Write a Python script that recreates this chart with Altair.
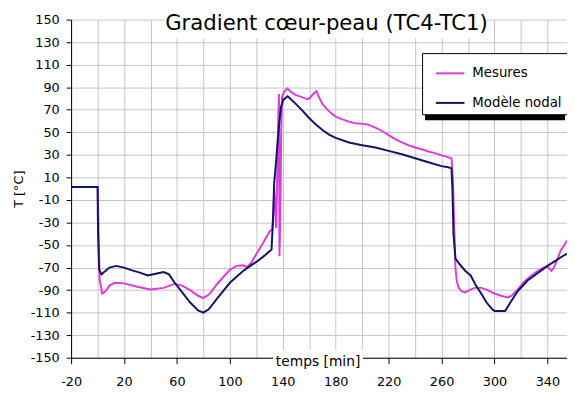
import altair as alt
import pandas as pd

# --- data ---
series_names = ["Mesures", "Modèle nodal"]
series_colors = ["#dc3cdc", "#141464"]

mes_x = [-20, 0.2, 0.8, 1.5, 3.5, 6, 9, 13, 20, 30, 40, 50, 58, 64, 70, 76, 80, 85, 90, 100,
         105, 110, 113, 116, 120, 125, 130, 132, 133, 133.5, 134.2, 135, 135.8, 136.5, 137.1, 137.5,
         138.2, 138.8, 139.5, 141, 143.5, 146, 150, 154, 158, 160, 163, 165.5, 167, 170, 173, 176,
         180, 185, 190, 195, 200, 204, 208, 212, 216, 220, 225, 230, 235, 240, 245, 250, 255, 260,
         265, 267.5, 268.5, 269.5, 270.5, 271.5, 273, 275, 278, 281, 285, 290, 295, 300, 305, 310,
         313, 317.5, 322, 327, 332.5, 337, 340, 343, 345, 348, 350, 356]
mes_y = [1.5, 1.5, -40, -80, -93, -91, -86, -83.5, -84, -87, -89.5, -88, -84.5, -86, -90, -95, -97, -93, -85, -72,
         -68.5, -68, -69.5, -66, -58, -48.5, -38, -36, -20, 2, -15, -35, 10, 60, 84, -60,
         -20, 50, 82, 86, 89, 86, 83, 81.5, 79.5, 80, 84, 86.5, 82, 75, 71, 67.5,
         64, 61.5, 59.5, 58, 57.5, 57, 55, 53, 50.5, 47.5, 44, 41, 38.5, 36.5, 35, 33, 31.5, 29.5,
         28, 27, 10, -30, -70, -82, -88, -91, -92, -90, -88, -88, -90, -93, -95, -96.5,
         -95, -89.5, -83, -78, -73, -70, -69, -73, -70, -61, -55, -44]

mod_x = [-20, 0, 0.4, 1.2, 3, 5, 9, 14, 20, 26, 32, 38, 44, 50, 54, 58, 64, 70, 76, 80, 84, 90, 100,
         110, 116, 120, 125, 128, 131.5, 132.5, 133.5, 135, 136.3, 137.5, 138.7, 140.5, 143.7, 150,
         155, 160, 165, 170, 175, 180, 190, 200, 210, 220, 230, 240, 250, 260, 265, 267.5, 268.2,
         269, 270.5, 274, 278, 282, 286, 290, 294, 298, 300, 308, 312, 317.5, 325, 332.5, 340, 346,
         352, 356]
mod_y = [1.5, 1.5, -40, -72, -76, -74, -70, -68.5, -70, -72.5, -74.5, -77, -75.5, -74, -76, -83, -92, -101,
         -108, -110, -107, -98, -83.5, -73, -68, -65, -60.5, -57.5, -54, -30, 5, 25, 45, 60, 73, 79, 82,
         75, 69, 62.5, 57, 52, 48, 45, 41, 38.5, 36.5, 33.5, 30.5, 27, 23.5, 20, 19, 18, 0, -40, -62,
         -67.5, -73, -77, -86, -93, -101, -106.5, -108.5, -108.5, -101, -91, -81.5, -75, -68.5, -64,
         -59.5, -57]

x_ticks = list(range(-20, 361, 20))
y_ticks = list(range(-150, 151, 20))

chart_title = "Gradient cœur-peau (TC4-TC1)"
x_title = "temps [min]"
y_title = "T [°C]"

FONT = "DejaVu Sans"

df = pd.concat([
    pd.DataFrame({"serie": series_names[0], "t": mes_x, "T": mes_y, "o": range(len(mes_x))}),
    pd.DataFrame({"serie": series_names[1], "t": mod_x, "T": mod_y, "o": range(len(mod_x))}),
])

W, H = 503, 343

x_axis = alt.Axis(
    values=x_ticks, grid=True, gridColor="#c4c4c4", gridWidth=1,
    domainColor="#000000", tickColor="#000000", tickSize=6,
    tickOpacity={"condition": {"test": "(datum.value + 20) % 40 == 0", "value": 1}, "value": 0},
    labelExpr="(datum.value + 20) % 40 == 0 ? '' + datum.value : ''",
    labelFont=FONT, labelFontSize=13, labelColor="#000000", labelPadding=12,
    labelFlush=False, labelOverlap=False, title=None,
)
y_axis = alt.Axis(
    values=y_ticks, grid=True, gridColor="#c4c4c4", gridWidth=1,
    domainColor="#000000", tickColor="#000000", tickSize=5,
    labelExpr="'' + datum.value",
    labelFont=FONT, labelFontSize=13, labelColor="#000000", labelPadding=7,
    labelFlush=False, labelOverlap=False,
    title=y_title, titleFont=FONT, titleFontSize=13, titleFontWeight="normal",
    titleColor="#000000", titlePadding=5,
)

lines = alt.Chart(df).mark_line(strokeWidth=2, clip=True, interpolate="linear").encode(
    x=alt.X("t:Q", scale=alt.Scale(domain=[-20, 354.8], nice=False, zero=False), axis=x_axis),
    y=alt.Y("T:Q", scale=alt.Scale(domain=[-150, 150], nice=False, zero=False), axis=y_axis),
    color=alt.Color(
        "serie:N",
        scale=alt.Scale(domain=series_names, range=series_colors),
        legend=alt.Legend(
            title=None, orient="none", legendX=356, legendY=34,
            fillColor="#ffffff", strokeColor="#000000", padding=5,
            symbolType="stroke", symbolSize=841, symbolStrokeWidth=2, symbolOffset=8,
            labelFont=FONT, labelFontSize=13.5, labelColor="#000000", labelOffset=7,
            rowPadding=8,
        ),
    ),
    order="o:Q",
    detail="serie:N",
)

title_df = pd.DataFrame({"txt": [chart_title]})
xtitle_df = pd.DataFrame({"txt": [x_title]})

title_box = alt.Chart(title_df).mark_rect(color="#ffffff").encode(
    x=alt.value(95), x2=alt.value(420), y=alt.value(-8), y2=alt.value(19))
title_txt = alt.Chart(title_df).mark_text(
    font=FONT, fontSize=21.5, color="#000000", align="center", baseline="alphabetic"
).encode(x=alt.value(259), y=alt.value(11), text="txt:N")

xt_box = alt.Chart(xtitle_df).mark_rect(color="#ffffff").encode(
    x=alt.value(205), x2=alt.value(296), y=alt.value(335), y2=alt.value(355))
xt_txt = alt.Chart(xtitle_df).mark_text(
    font=FONT, fontSize=14, color="#000000", align="center", baseline="alphabetic"
).encode(x=alt.value(250.5), y=alt.value(351), text="txt:N")

shadow = alt.Chart(title_df).mark_rect(color="#000000").encode(
    x=alt.value(359), x2=alt.value(501), y=alt.value(37), y2=alt.value(102))

chart = alt.layer(title_box, xt_box, shadow, lines, title_txt, xt_txt).properties(
    width=W, height=H,
    autosize=alt.AutoSizeParams(type="none"),
    padding={"left": 64, "top": 9, "right": 0, "bottom": 34},
    background="#ffffff",
).configure_view(stroke="transparent")

chart.save("out.html", embed_options={"renderer": "svg", "actions": False})
